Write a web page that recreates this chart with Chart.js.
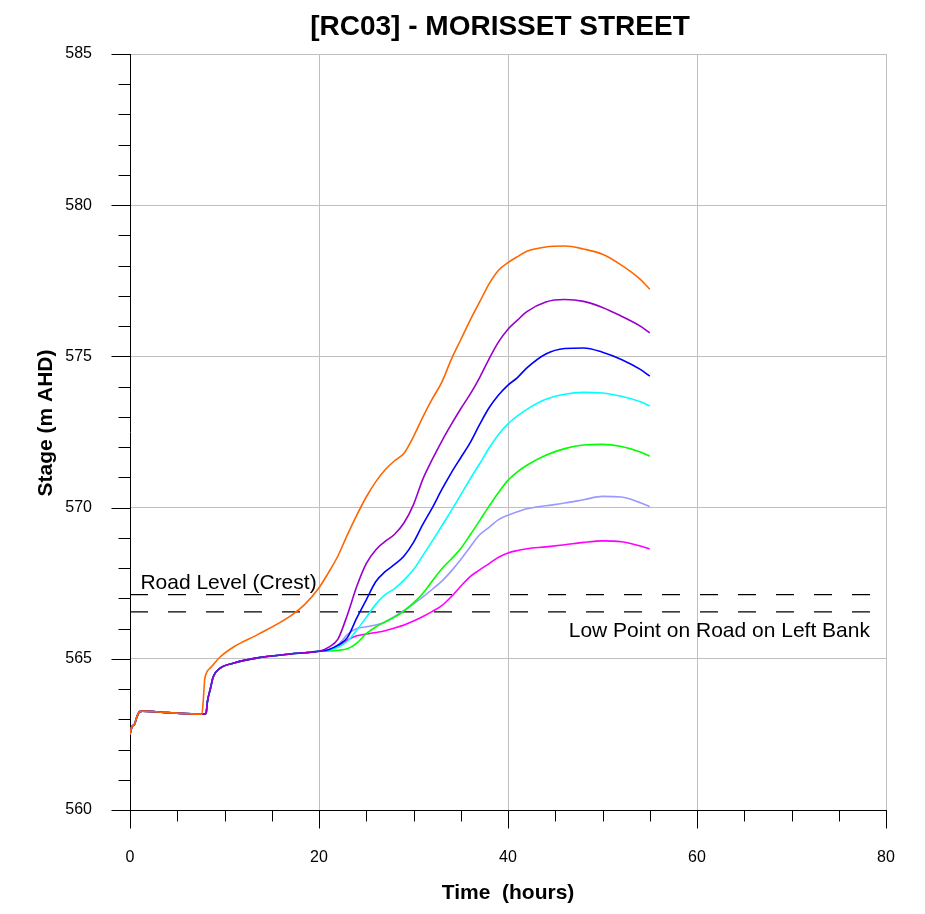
<!DOCTYPE html>
<html lang="en">
<head>
<meta charset="UTF-8">
<title>RC03 - Morisset Street</title>
<script src="https://cdn.jsdelivr.net/npm/chart.js"></script>
<style>
    body { margin: 0; background: #fff; }
    canvas { display: block; }
</style>
<script>
// time axis shared by every run (hours)
var hours = [0, 0.2, 0.5, 0.7, 1, 1.3, 4, 7.6,
    7.75, 7.9, 8.05, 8.2, 8.5, 8.8, 9.5, 11, 13.5, 17, 18.5, 20,
    21, 22, 23, 24, 25, 26, 27, 28, 29, 30, 31, 32, 33, 34, 35, 36, 37, 38, 39, 40, 41, 42,
    44, 46, 48, 50, 52, 54, 55];

// stage common to all runs for the first hours
var startStage = [562.5, 562.75, 562.85, 563.05, 563.25, 563.27, 563.22, 563.17];
// early rise shared by all runs except the orange one
var baseRise = [563.17, 563.17, 563.2, 563.6, 564.0, 564.4, 564.68, 564.86, 565.03, 565.16, 565.2, 565.25];

var orangeStage = [563.6, 564.3, 564.5, 564.6, 564.7, 564.8, 565.05, 565.4, 565.8, 566.42, 566.8, 567.35,
    567.85, 568.4, 569.1, 569.75, 570.35, 570.85, 571.25, 571.55, 571.8, 572.35, 573.0, 573.6, 574.15, 574.9, 575.55, 576.2, 576.8, 577.4, 577.85, 578.1, 578.3, 578.48,
    578.62, 578.65, 578.55, 578.38, 578.02, 577.55, 577.22];
var purpleStage = [565.38, 565.65, 566.45, 567.4, 568.15, 568.6, 568.88, 569.12, 569.5, 570.1, 570.95, 571.6, 572.2, 572.75, 573.27, 573.75, 574.3, 574.92, 575.48, 575.9, 576.2, 576.48,
    576.8, 576.88, 576.82, 576.62, 576.33, 576.0, 575.78];
var blueStage = [565.3, 565.45, 565.7, 566.35, 566.95, 567.55, 567.88, 568.12, 568.4, 568.85, 569.45, 570.0, 570.6, 571.15, 571.65, 572.15, 572.75, 573.3, 573.72, 574.05, 574.3, 574.62,
    575.08, 575.26, 575.28, 575.14, 574.9, 574.57, 574.35];
var cyanStage = [565.28, 565.38, 565.58, 565.95, 566.37, 566.8, 567.12, 567.32, 567.6, 567.95, 568.42, 568.9, 569.4, 569.9, 570.42, 570.95, 571.45, 571.97, 572.42, 572.77, 573.03, 573.25,
    573.58, 573.75, 573.81, 573.79, 573.68, 573.5, 573.36];
var greenStage = [565.26, 565.28, 565.33, 565.52, 565.83, 566.05, 566.22, 566.38, 566.58, 566.85, 567.17, 567.58, 567.98, 568.3, 568.65, 569.1, 569.57, 570.05, 570.5, 570.9, 571.18, 571.4,
    571.73, 571.95, 572.07, 572.09, 572.02, 571.84, 571.7];
var lilacStage = [565.3, 565.45, 565.8, 566.0, 566.06, 566.12, 566.22, 566.4, 566.6, 566.82, 567.05, 567.3, 567.57, 567.9, 568.28, 568.7, 569.1, 569.35, 569.6, 569.75, 569.86, 569.96,
    570.06, 570.15, 570.26, 570.37, 570.35, 570.16, 570.03];
var magentaStage = [565.28, 565.42, 565.62, 565.76, 565.82, 565.87, 565.93, 566.02, 566.12, 566.25, 566.4, 566.57, 566.76, 567.05, 567.4, 567.72, 567.94, 568.15, 568.36, 568.5, 568.58, 568.64,
    568.7, 568.77, 568.85, 568.9, 568.87, 568.73, 568.63];

// reference levels
var roadLevel = 567.12;
var lowPoint = 566.55;

var xTicks = [0, 20, 40, 60, 80];
var yTicks = [560, 565, 570, 575, 580, 585];
</script>
</head>
<body>
<canvas id="chart" width="925" height="914"></canvas>
<script>
var FONT = "'Liberation Sans', Arial, Helvetica, sans-serif";
Chart.defaults.font.family = FONT;
Chart.defaults.color = '#000';

function toPoints(values) {
    var pts = [];
    for (var i = 0; i < values.length; i++) {
        pts.push({ x: hours[i], y: values[i] });
    }
    return pts;
}

function run(tail, color) {
    var vals = startStage.concat(tail === orangeStage ? [] : baseRise, tail);
    return {
        data: toPoints(vals),
        borderColor: color,
        borderWidth: 1.6,
        pointRadius: 0,
        fill: false,
        cubicInterpolationMode: 'monotone'
    };
}

function level(v) {
    return {
        data: [{ x: 0, y: v }, { x: 80, y: v }],
        borderColor: '#000',
        borderWidth: 1.3,
        borderDash: [18, 20],
        pointRadius: 0,
        fill: false
    };
}

// tick marks, titles and level labels
var decor = {
    id: 'decor',
    afterDraw: function (chart) {
        var ctx = chart.ctx;
        var xs = chart.scales.x, ys = chart.scales.y;
        var left = Math.round(xs.left) + 0.5;
        var bottom = Math.round(ys.bottom) + 0.5;
        ctx.save();
        ctx.strokeStyle = '#000';
        ctx.lineWidth = 1;
        ctx.beginPath();
        for (var v = 560; v <= 585; v++) {
            var py = Math.round(ys.getPixelForValue(v)) + 0.5;
            var len = v % 5 === 0 ? 19 : 12;
            ctx.moveTo(left - len, py);
            ctx.lineTo(left, py);
        }
        for (var t = 0; t <= 80; t += 5) {
            var px = Math.round(xs.getPixelForValue(t)) + 0.5;
            var l2 = t % 20 === 0 ? 18 : 11;
            ctx.moveTo(px, bottom);
            ctx.lineTo(px, bottom + l2);
        }
        ctx.stroke();

        ctx.fillStyle = '#000';
        ctx.textAlign = 'center';
        ctx.textBaseline = 'alphabetic';
        ctx.font = 'bold 28px ' + FONT;
        ctx.fillText('[RC03] - MORISSET STREET', 500, 35);

        ctx.font = 'bold 21px ' + FONT;
        ctx.fillText('Time  (hours)', 508, 899);

        ctx.save();
        ctx.translate(52, 423);
        ctx.rotate(-Math.PI / 2);
        ctx.fillText('Stage (m AHD)', 0, 0);
        ctx.restore();

        ctx.font = '21px ' + FONT;
        ctx.textAlign = 'left';
        ctx.fillText('Road Level (Crest)', xs.getPixelForValue(1.1), ys.getPixelForValue(roadLevel) - 6);
        ctx.textAlign = 'right';
        ctx.fillText('Low Point on Road on Left Bank', xs.getPixelForValue(78.3), ys.getPixelForValue(lowPoint) + 25);
        ctx.restore();
    }
};

new Chart(document.getElementById('chart'), {
    type: 'line',
    data: {
        datasets: [
            run(orangeStage, '#ff6600'),
            run(purpleStage, '#9900cc'),
            run(blueStage, '#0000ff'),
            run(cyanStage, '#00ffff'),
            run(greenStage, '#00ff00'),
            run(lilacStage, '#9999ff'),
            run(magentaStage, '#ff00ff'),
            level(roadLevel),
            level(lowPoint)
        ]
    },
    options: {
        responsive: false,
        animation: false,
        layout: { padding: { left: 0, top: 54, right: 39, bottom: 0 } },
        plugins: {
            legend: { display: false },
            title: { display: false },
            tooltip: { enabled: false }
        },
        scales: {
            x: {
                type: 'linear',
                min: 0,
                max: 80,
                afterFit: function (s) {
                    s.height = 104;
                    s.paddingLeft = 0;
                    s.paddingRight = 0;
                },
                afterBuildTicks: function (s) { s.ticks = xTicks.map(function (v) { return { value: v }; }); },
                ticks: { padding: 38, font: { size: 16 }, color: '#000', maxRotation: 0 },
                grid: {
                    drawTicks: false,
                    color: function (c) { return c.tick && c.tick.value === 0 ? 'rgba(0,0,0,0)' : '#c0c0c0'; }
                },
                border: { color: '#000', width: 1 }
            },
            y: {
                min: 560,
                max: 585,
                afterFit: function (s) {
                    s.width = 130;
                    s.paddingTop = 0;
                    s.paddingBottom = 0;
                },
                afterBuildTicks: function (s) { s.ticks = yTicks.map(function (v) { return { value: v }; }); },
                ticks: { padding: 38, font: { size: 16 }, color: '#000' },
                grid: {
                    drawTicks: false,
                    color: function (c) { return c.tick && c.tick.value === 560 ? 'rgba(0,0,0,0)' : '#c0c0c0'; }
                },
                border: { color: '#000', width: 1 }
            }
        }
    },
    plugins: [decor]
});
</script>
</body>
</html>
